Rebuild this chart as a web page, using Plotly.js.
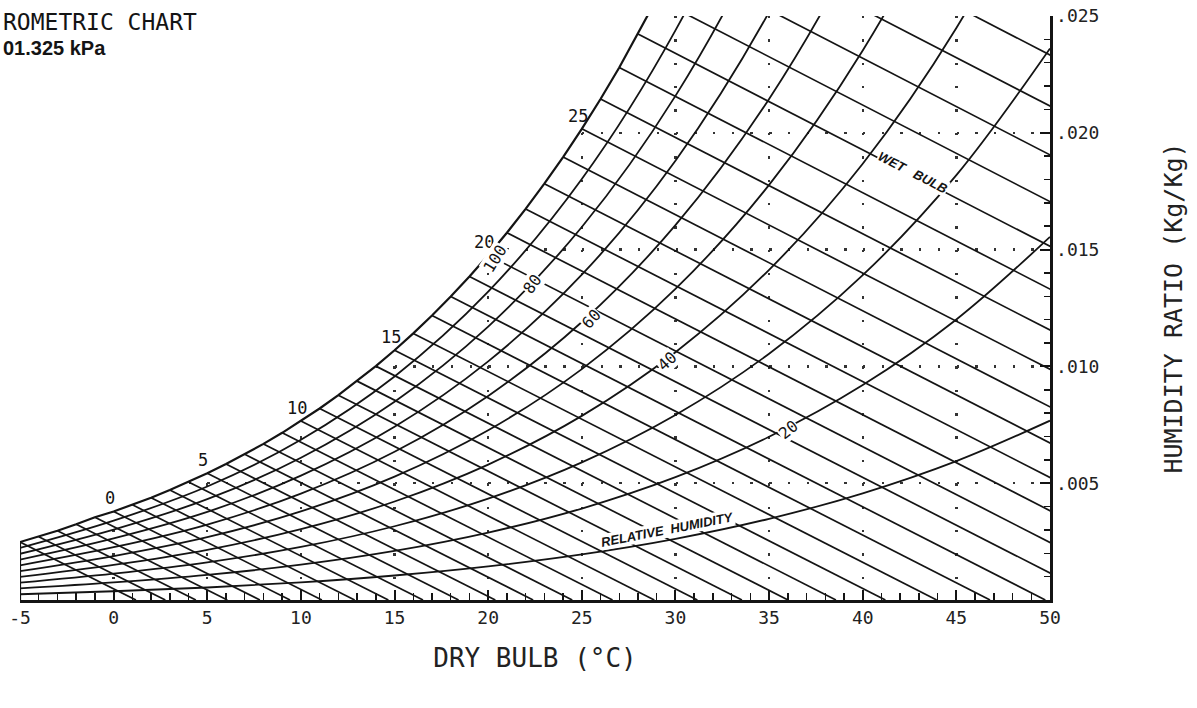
<!DOCTYPE html>
<html>
<head>
<meta charset="utf-8">
<script src="https://cdn.plot.ly/plotly-3.0.1.min.js"></script>
<style>
html,body{margin:0;padding:0;background:#fff;}
#chart{width:1197px;height:708px;}
</style>
</head>
<body>
<div id="chart"></div>
<script>
// ---------------- DATA ----------------
// Saturation (100 % RH) humidity ratio at each dry-bulb temperature, kg/kg
const satT = [-5,-4,-3,-2,-1,0,1,2,3,4,5,6,7,8,9,10,11,12,13,14,15,16,17,18,19,20,21,22,23,24,25,26,27,28,29,30,31,32,33,34,35];
const satW = [0.002480,0.002710,0.002966,0.003242,0.003540,0.003789,0.004076,0.004381,0.004707,0.005054,
              0.005424,0.005818,0.006237,0.006683,0.007157,0.007661,0.008197,0.008766,0.009370,0.010012,
              0.010692,0.011413,0.012178,0.012989,0.013848,0.014758,0.015721,0.016741,0.017821,0.018963,
              0.020170,0.021448,0.022798,0.024226,0.025735,0.027329,0.029014,0.030793,0.032674,0.034660,0.036756];
// Wet-bulb lines: each starts on the saturation curve at t = wet bulb, and runs to W = 0 at this dry bulb
const wbEndT = [1.19,2.76,4.39,6.07,7.81,9.42,11.12,12.87,14.67,16.52,
                18.42,20.38,22.40,24.49,26.64,28.87,31.17,33.55,36.01,38.57,
                41.21,43.95,46.80,49.75,52.82,56.01,59.32,62.77,66.36,70.09,
                73.98,78.03,82.26,86.66,91.25,96.05,101.05,106.28,111.74,117.44,123.40];

// Relative-humidity curves (10 % … 90 %), humidity ratio at every 5 °C
const rhT  = [-5,0,5,10,15,20,25,30,35,40,45,50];
const rh10 = [0.000247,0.000375,0.000536,0.000755,0.001049,0.001439,0.001952,0.002618,0.003475,0.004567,0.005946,0.007676];
const rh20 = [0.000494,0.000751,0.001073,0.001512,0.002101,0.002885,0.003916,0.005258,0.006989,0.009201,0.012008,0.015544];
const rh30 = [0.000741,0.001128,0.001611,0.002270,0.003157,0.004338,0.005893,0.007921,0.010542,0.013904,0.018187,0.023611];
const rh40 = [0.000988,0.001504,0.002150,0.003031,0.004217,0.005798,0.007882,0.010606,0.014136,0.018678,0.024488,0.031885];
const rh50 = [0.001235,0.001882,0.002690,0.003793,0.005280,0.007264,0.009884,0.013315,0.017771,0.023524,0.030914,0.040373];
const rh60 = [0.001483,0.002259,0.003231,0.004557,0.006347,0.008737,0.011899,0.016046,0.021448,0.028444,0.037469,0.049085];
const rh70 = [0.001731,0.002638,0.003772,0.005323,0.007417,0.010217,0.013926,0.018801,0.025167,0.033439,0.044157,0.058029];
const rh80 = [0.001979,0.003016,0.004315,0.006091,0.008491,0.011704,0.015967,0.021581,0.028929,0.038512,0.050983,0.067214];
const rh90 = [0.002227,0.003395,0.004859,0.006860,0.009569,0.013198,0.018021,0.024384,0.032736,0.043663,0.057949,0.076652];
const rhLevels = [10,20,30,40,50,60,70,80,90];
const rhSeries = [rh10,rh20,rh30,rh40,rh50,rh60,rh70,rh80,rh90];

// Tick labels
const xTickVals = [-5,0,5,10,15,20,25,30,35,40,45,50];
const xTickText = ['-5','0','5','10','15','20','25','30','35','40','45','50'];
const yTickVals = [0.005,0.010,0.015,0.020,0.025];
const yTickText = ['.005','.010','.015','.020','.025'];

// In-chart labels
const wbLabelT = [0,5,10,15,20,25];
const rhLabelText = ['100','80','60','40','20'];
const rhLabelT = [20.36,22.39,25.54,29.55,36.06];
const rhLabelW = [0.01464,0.01353,0.01203,0.01019,0.00728];

// ---------------- STYLE ----------------
const INK = '#141414';
const MONO = 'DejaVu Sans Mono, monospace';
const SANS = 'Liberation Sans, Arial, sans-serif';

const traces = [];

// white mask above the saturation curve (hides dotted grid there)
traces.push({
  x: satT.concat([satT[satT.length-1], satT[0]-2, satT[0]-2]),
  y: satW.concat([0.04, 0.04, satW[0]]),
  mode: 'lines', fill: 'toself', fillcolor: '#ffffff',
  line: {width: 0, color: 'rgba(0,0,0,0)'}, hoverinfo: 'skip', showlegend: false
});

// relative humidity curves
rhSeries.forEach((arr, i) => {
  traces.push({
    x: rhT, y: arr, name: rhLevels[i] + '%', mode: 'lines',
    line: {color: INK, width: 1.8, shape: 'spline', smoothing: 1},
    hoverinfo: 'skip', showlegend: false
  });
});

// saturation curve
traces.push({
  x: satT, y: satW, mode: 'lines', name: '100%',
  line: {color: INK, width: 2.2}, hoverinfo: 'skip', showlegend: false
});

// left boundary at -5 °C
traces.push({
  x: [satT[0], satT[0]], y: [0, satW[0]], mode: 'lines',
  line: {color: INK, width: 2.2}, hoverinfo: 'skip', showlegend: false
});

// wet-bulb lines
const wbX = [], wbY = [];
satT.forEach((t, i) => {
  wbX.push(t, wbEndT[i], null);
  wbY.push(satW[i], 0, null);
});
traces.push({
  x: wbX, y: wbY, mode: 'lines', connectgaps: false,
  line: {color: INK, width: 1.7}, hoverinfo: 'skip', showlegend: false
});

// ---------------- ANNOTATIONS ----------------
const annotations = [];
wbLabelT.forEach(t => {
  const i = satT.indexOf(t);
  annotations.push({
    x: t, y: satW[i], xref: 'x', yref: 'y', text: String(t), showarrow: false,
    xanchor: 'center', yanchor: 'bottom', xshift: -4, yshift: 1,
    font: {family: MONO, size: 17, color: INK}
  });
});
const rhAngles = [-58, -54, -48, -42, -38];
rhLabelText.forEach((txt, i) => {
  annotations.push({
    x: rhLabelT[i], y: rhLabelW[i], xref: 'x', yref: 'y', text: txt, showarrow: false,
    textangle: rhAngles[i], xanchor: 'center', yanchor: 'middle',
    bgcolor: '#ffffff', borderpad: 0,
    font: {family: MONO, size: 16, color: INK}
  });
});
annotations.push({
  x: 29.6, y: 0.00300, xref: 'x', yref: 'y', text: 'RELATIVE  HUMIDITY', showarrow: false,
  textangle: -11, xanchor: 'center', yanchor: 'middle', bgcolor: '#ffffff', borderpad: 0,
  font: {family: SANS, size: 13, color: INK, weight: 'bold', style: 'italic'}
});
annotations.push({
  x: 42.68, y: 0.01832, xref: 'x', yref: 'y', text: 'WET   BULB', showarrow: false,
  textangle: 27, xanchor: 'center', yanchor: 'middle', bgcolor: '#ffffff', borderpad: 0,
  font: {family: SANS, size: 13, color: INK, weight: 'bold', style: 'italic'}
});
// header text (as visible in the reference)
annotations.push({
  x: -0.0185, y: 0.9897, xref: 'paper', yref: 'paper', text: 'ROMETRIC CHART', showarrow: false,
  xanchor: 'left', yanchor: 'middle', font: {family: MONO, size: 23, color: INK}
});
annotations.push({
  x: -0.0185, y: 0.9452, xref: 'paper', yref: 'paper', text: '01.325 kPa', showarrow: false,
  xanchor: 'left', yanchor: 'middle', font: {family: SANS, size: 20, color: INK, weight: 'bold'}
});

// ---------------- LAYOUT ----------------
const layout = {
  width: 1197, height: 708,
  margin: {l: 20, r: 147, t: 16, b: 108, pad: 0},
  paper_bgcolor: '#ffffff', plot_bgcolor: '#ffffff',
  showlegend: false,
  xaxis: {
    range: [-5, 50], tickmode: 'array', tickvals: xTickVals, ticktext: xTickText,
    ticks: 'inside', ticklen: 10, tickwidth: 2, tickcolor: INK,
    showline: true, linewidth: 2.5, linecolor: INK, zeroline: false,
    showgrid: true, gridcolor: '#333333', gridwidth: 2.4, griddash: '2.4px,20.96px',
    minor: {tickmode: 'linear', tick0: 0, dtick: 1, ticks: 'inside', ticklen: 7, tickwidth: 1.5, tickcolor: INK, showgrid: false},
    tickfont: {family: MONO, size: 18, color: '#222'},
    title: {text: 'DRY BULB (°C)', font: {family: MONO, size: 26, color: '#222'}, standoff: 22},
    fixedrange: true
  },
  yaxis: {
    range: [0, 0.025], side: 'right', tickmode: 'array', tickvals: yTickVals, ticktext: yTickText,
    ticks: 'inside', ticklen: 10, tickwidth: 2, tickcolor: INK,
    showline: true, linewidth: 2.5, linecolor: INK, zeroline: false,
    showgrid: true, gridcolor: '#333333', gridwidth: 2.4, griddash: '2.4px,16.33px',
    minor: {tickmode: 'linear', tick0: 0, dtick: 0.001, ticks: 'inside', ticklen: 6, tickwidth: 1.5, tickcolor: INK, showgrid: false},
    tickfont: {family: MONO, size: 18, color: '#222'},
    title: {text: 'HUMIDITY RATIO (Kg/Kg)', font: {family: MONO, size: 25, color: '#222'}, standoff: 66},
    fixedrange: true
  },
  annotations: annotations
};

Plotly.newPlot('chart', traces, layout, {staticPlot: true, displayModeBar: false});
</script>
</body>
</html>
